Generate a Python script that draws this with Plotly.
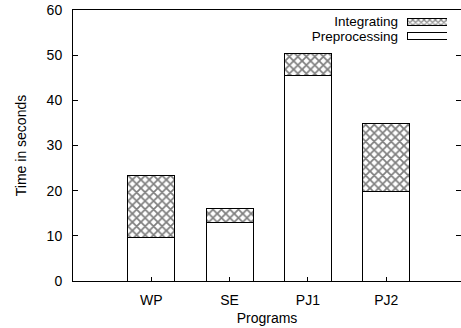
import plotly.graph_objects as go

programs = ["WP", "SE", "PJ1", "PJ2"]
preprocessing = [9.7, 13.0, 45.5, 19.8]
integrating = [13.7, 3.0, 4.9, 15.1]
series_names = ["Preprocessing", "Integrating"]
y_ticks = [0, 10, 20, 30, 40, 50, 60]

FONT = "Liberation Sans, Arial, Helvetica, sans-serif"
fsz = 14

hatch = dict(shape="x", size=6, solidity=0.5, fgcolor="black", bgcolor="white")
line = dict(color="black", width=1)

fig = go.Figure()
fig.add_trace(go.Bar(x=programs, y=preprocessing, name=series_names[0],
                     marker=dict(color="white", line=line), width=0.6, showlegend=False))
fig.add_trace(go.Bar(x=programs, y=integrating, name=series_names[1],
                     marker=dict(color="white", line=line, pattern=hatch), width=0.6, showlegend=False))

# legend swatches drawn as bars on a small inset axis
fig.add_trace(go.Bar(y=[series_names[1]], x=[1], orientation="h", xaxis="x2", yaxis="y2",
                     marker=dict(color="white", line=line, pattern=dict(shape="x", size=4, solidity=0.5,
                                                                        fgcolor="black", bgcolor="white")),
                     width=0.47, showlegend=False, hoverinfo="skip"))
fig.add_trace(go.Bar(y=[series_names[0]], x=[1], orientation="h", xaxis="x2", yaxis="y2",
                     marker=dict(color="white", line=line), width=0.47, showlegend=False, hoverinfo="skip"))

tf = dict(family=FONT, size=fsz, color="black")
lf = dict(family=FONT, size=13.5, color="black")

fig.update_layout(
    width=461, height=328,
    margin=dict(l=73, r=0, t=10, b=47),
    barmode="stack",
    plot_bgcolor="white", paper_bgcolor="white",
    font=tf,
    xaxis=dict(range=[-1, 3.955], showline=True, linecolor="black", linewidth=1, mirror=True,
               ticks="inside", ticklen=4, tickcolor="black", showgrid=False, tickfont=tf,
               title=dict(text="Programs", standoff=6, font=tf), ticklabelstandoff=6),
    yaxis=dict(range=[0, 60], tickvals=y_ticks, showline=True, linecolor="black", linewidth=1,
               mirror="ticks", ticks="inside", ticklen=5, tickcolor="black", showgrid=False,
               zeroline=False, tickfont=tf,
               title=dict(text="Time in seconds", standoff=16, font=tf), ticklabelstandoff=7),
    xaxis2=dict(domain=[0.861, 0.964], range=[0, 1], anchor="y2", visible=False, fixedrange=True),
    yaxis2=dict(domain=[0.875, 0.985], anchor="x2", categoryorder="array",
                categoryarray=series_names, tickvals=series_names, range=[-0.5, 1.5],
                showline=False, ticks="", tickfont=lf,
                showgrid=False, ticklabelstandoff=8, fixedrange=True),
)

fig.write_html("out.html")
